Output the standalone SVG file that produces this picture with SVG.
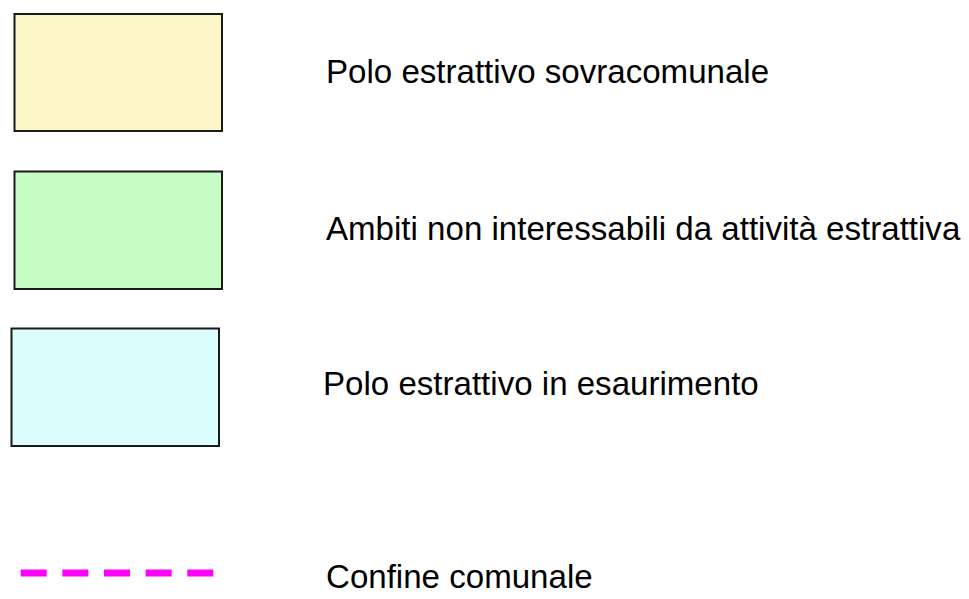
<svg xmlns="http://www.w3.org/2000/svg" width="969" height="599" viewBox="0 0 969 599">
<style>
.box{stroke:#1a1a1a;stroke-width:2}
.lbl{font-family:"Liberation Sans",Arial,sans-serif;font-size:33.1px;fill:#000}
</style>
<rect width="969" height="599" fill="#fff"/>
<g id="legend-sovracomunale">
<rect class="box" x="14.5" y="14" width="207.5" height="117" fill="#fdf6c9"/>
<text class="lbl" x="326" y="83">Polo estrattivo sovracomunale</text>
</g>
<g id="legend-ambiti">
<rect class="box" x="14.5" y="171.5" width="207.5" height="117.5" fill="#c8fec5"/>
<text class="lbl" x="326" y="240">Ambiti non interessabili da attività estrattiva</text>
</g>
<g id="legend-esaurimento">
<rect class="box" x="11.5" y="328.5" width="207.5" height="117.5" fill="#dcfefe"/>
<text class="lbl" x="323" y="395">Polo estrattivo in esaurimento</text>
</g>
<g id="legend-confine">
<line x1="20.7" y1="573" x2="213.3" y2="573" stroke="#ff00ff" stroke-width="7" stroke-dasharray="26 15.65"/>
<text class="lbl" x="326" y="588">Confine comunale</text>
</g>
</svg>
